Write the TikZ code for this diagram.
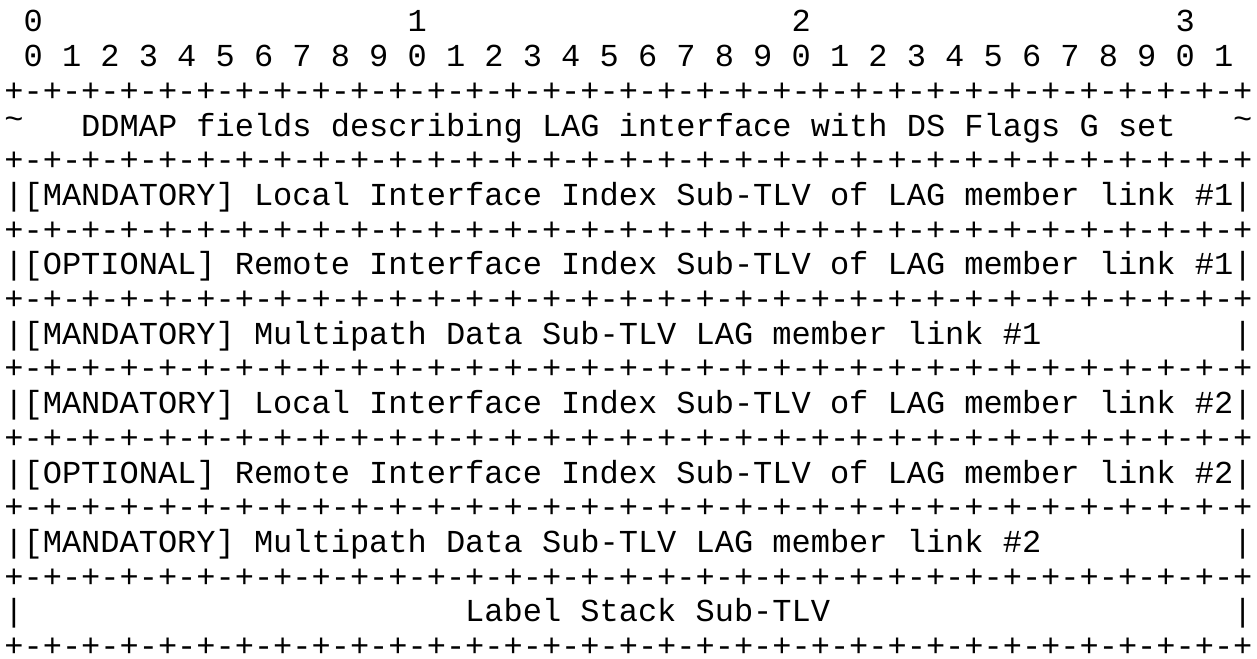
\documentclass[tikz,border=0pt]{standalone}
\usepackage{fontspec}
\setmonofont{Liberation Mono}
\tikzset{txt/.style={anchor=base west, inner sep=0pt, outer sep=0pt, font=\ttfamily\fontsize{32}{36}\selectfont}}
\newcommand\putat[3]{\node[txt] at ({4.4+(#1)*19.2},{626-(#2)*34.7}) {#3};}
\newcommand\borderrow[1]{\putat{0}{#1}{+-+-+-+-+-+-+-+-+-+-+-+-+-+-+-+-+-+-+-+-+-+-+-+-+-+-+-+-+-+-+-+-+}}
\newcommand\barrow[2]{\putat{0}{#1}{|}\putat{1}{#1}{#2}\putat{64}{#1}{|}}
\newcommand\hitilde{\raisebox{7pt}{\textasciitilde}}
\begin{document}
\begin{tikzpicture}[x=1pt,y=1pt]
\fill[white] (0,0) rectangle (1257,658);
\useasboundingbox (0,0) rectangle (1257,658);
% header
\putat{1}{0}{0}\putat{21}{0}{1}\putat{41}{0}{2}\putat{61}{0}{3}
\foreach \c [evaluate=\c as \d using {int(mod(\c,10))}] in {0,...,31} {\putat{2*\c+1}{1}{\d}}
\borderrow{2}
\putat{0}{3}{\hitilde}\putat{4}{3}{DDMAP fields describing LAG interface with DS Flags G set}\putat{64}{3}{\hitilde}
\borderrow{4}
\barrow{5}{[MANDATORY] Local Interface Index Sub-TLV of LAG member link \#1}
\borderrow{6}
\barrow{7}{[OPTIONAL] Remote Interface Index Sub-TLV of LAG member link \#1}
\borderrow{8}
\barrow{9}{[MANDATORY] Multipath Data Sub-TLV LAG member link \#1}
\borderrow{10}
\barrow{11}{[MANDATORY] Local Interface Index Sub-TLV of LAG member link \#2}
\borderrow{12}
\barrow{13}{[OPTIONAL] Remote Interface Index Sub-TLV of LAG member link \#2}
\borderrow{14}
\barrow{15}{[MANDATORY] Multipath Data Sub-TLV LAG member link \#2}
\borderrow{16}
\putat{0}{17}{|}\putat{24}{17}{Label Stack Sub-TLV}\putat{64}{17}{|}
\borderrow{18}
\end{tikzpicture}
\end{document}
